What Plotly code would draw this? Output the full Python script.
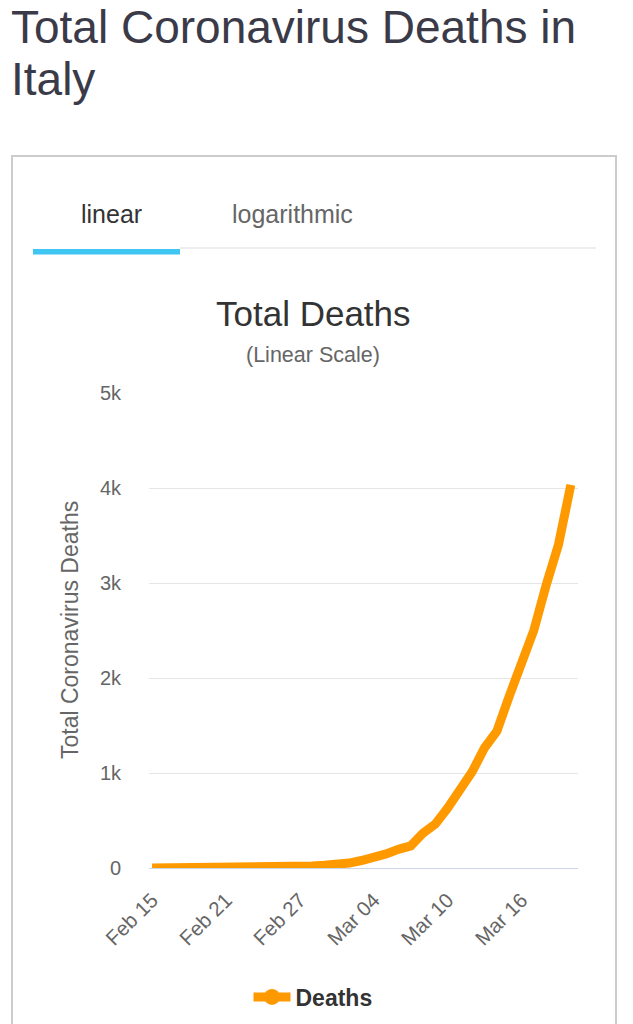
import plotly.graph_objects as go

W, H = 633, 1024

dates = [
    "2020-02-15", "2020-02-16", "2020-02-17", "2020-02-18", "2020-02-19",
    "2020-02-20", "2020-02-21", "2020-02-22", "2020-02-23", "2020-02-24",
    "2020-02-25", "2020-02-26", "2020-02-27", "2020-02-28", "2020-02-29",
    "2020-03-01", "2020-03-02", "2020-03-03", "2020-03-04", "2020-03-05",
    "2020-03-06", "2020-03-07", "2020-03-08", "2020-03-09", "2020-03-10",
    "2020-03-11", "2020-03-12", "2020-03-13", "2020-03-14", "2020-03-15",
    "2020-03-16", "2020-03-17", "2020-03-18", "2020-03-19", "2020-03-20",
]
deaths = [
    0, 0, 0, 0, 0,
    0, 1, 2, 3, 7,
    10, 12, 17, 21, 29,
    34, 52, 79, 107, 148,
    197, 233, 366, 463, 631,
    827, 1016, 1266, 1441, 1809,
    2158, 2503, 2978, 3405, 4032,
]
x_tick_vals = ["2020-02-15", "2020-02-21", "2020-02-27", "2020-03-04", "2020-03-10", "2020-03-16"]
x_tick_text = ["Feb 15", "Feb 21", "Feb 27", "Mar 04", "Mar 10", "Mar 16"]
y_tick_vals = [0, 1000, 2000, 3000, 4000, 5000]
y_tick_text = ["0", "1k", "2k", "3k", "4k", "5k"]

ORANGE = "#ff9900"
FONT = "Liberation Sans, Arial, Helvetica, sans-serif"


def px(x):
    return x / W


def py(y):
    return 1 - y / H


fig = go.Figure()
fig.add_trace(go.Scatter(
    x=dates, y=deaths, mode="lines", name="Deaths",
    line=dict(color=ORANGE, width=9), showlegend=False,
))
# legend entry (line + circle symbol)
fig.add_trace(go.Scatter(
    x=[None], y=[None], mode="lines+markers", name="Deaths",
    line=dict(color=ORANGE, width=9),
    marker=dict(color=ORANGE, size=16, symbol="circle"),
))

# plot area: x 149..578, y 393..868
fig.update_layout(
    width=W, height=H,
    margin=dict(l=0, r=0, t=0, b=0, pad=0, autoexpand=False),
    paper_bgcolor="white", plot_bgcolor="white",
    font=dict(family=FONT, color="#666666"),
    xaxis=dict(
        domain=[px(149), px(578)],
        type="date", automargin=False,
        range=["2020-02-14 18:00", "2020-03-20 14:00"],
        tickvals=x_tick_vals, ticktext=x_tick_text,
        tickangle=-45, tickfont=dict(size=20.5, color="#666666"),
        ticklabelstandoff=11,
        showgrid=False, zeroline=False,
        showline=True, linecolor="#ccd6eb", linewidth=1,
        ticks="", fixedrange=True,
    ),
    yaxis=dict(
        domain=[py(868), py(393)],
        range=[0, 5000], automargin=False,
        tickvals=y_tick_vals, ticktext=y_tick_text,
        tickfont=dict(size=20, color="#666666"),
        showgrid=True, gridcolor="#e6e6e6", gridwidth=1,
        zeroline=False, showline=False, ticks="",
        ticklabelstandoff=27, fixedrange=True,
    ),
    showlegend=True,
    legend=dict(
        orientation="h", x=px(313), xanchor="center",
        y=py(997), yanchor="middle",
        font=dict(size=23, color="#333333", weight="bold", family=FONT),
        bgcolor="rgba(0,0,0,0)", itemwidth=37,
    ),
)

shapes = [
    # card border
    dict(type="rect", xref="paper", yref="paper",
         x0=px(12), x1=px(616), y0=py(1040), y1=py(156),
         line=dict(color="#cccccc", width=2), fillcolor="rgba(0,0,0,0)", layer="below"),
    # tab separator
    dict(type="line", xref="paper", yref="paper",
         x0=px(180), x1=px(596), y0=py(248), y1=py(248),
         line=dict(color="#eeeeee", width=2)),
    # active tab underline
    dict(type="rect", xref="paper", yref="paper",
         x0=px(33), x1=px(180), y0=py(254.5), y1=py(249),
         line=dict(width=0), fillcolor="#3fc6f3"),
]
fig.update_layout(shapes=shapes)

annotations = [
    dict(text="Total Coronavirus Deaths in", x=px(10), y=1, xanchor="left", yanchor="top",
         borderpad=0, font=dict(size=46, color="#3a3a48", family=FONT)),
    dict(text="Italy", x=px(10), y=py(51.5), xanchor="left", yanchor="top",
         borderpad=0, font=dict(size=46, color="#3a3a48", family=FONT)),
    dict(text="linear", x=px(111), y=py(214), xanchor="center", yanchor="middle",
         font=dict(size=25, color="#333333", family=FONT)),
    dict(text="logarithmic", x=px(292), y=py(214), xanchor="center", yanchor="middle",
         font=dict(size=25, color="#666666", family=FONT)),
    dict(text="Total Deaths", x=px(313), y=py(313), xanchor="center", yanchor="middle",
         font=dict(size=35, color="#333333", family=FONT)),
    dict(text="(Linear Scale)", x=px(313), y=py(355), xanchor="center", yanchor="middle",
         font=dict(size=21.5, color="#666666", family=FONT)),
    dict(text="Total Coronavirus Deaths", x=px(70), y=py(630), xanchor="center", yanchor="middle",
         textangle=-90, font=dict(size=23, color="#666666", family=FONT)),
]
for a in annotations:
    a.update(xref="paper", yref="paper", showarrow=False)
fig.update_layout(annotations=annotations)

fig.write_html("out.html")
